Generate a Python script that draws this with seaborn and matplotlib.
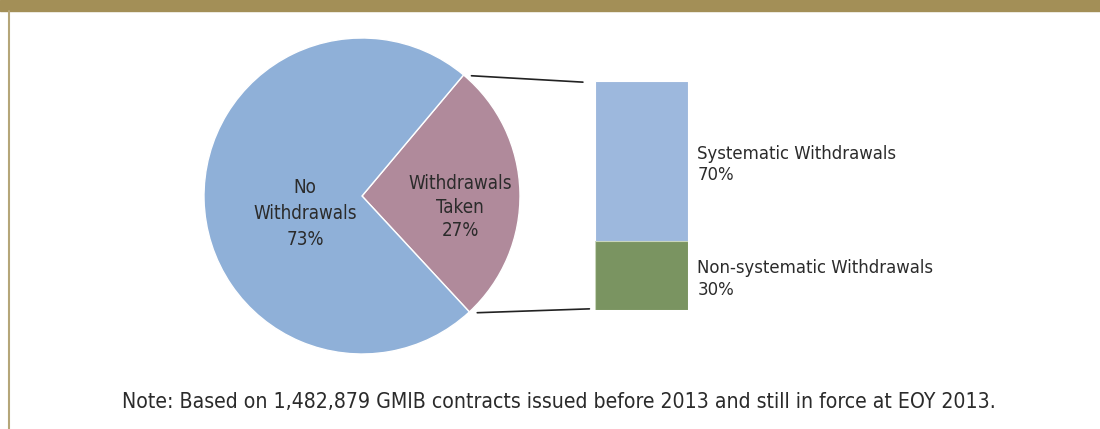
"""
Pie-of-bar chart: GMIB contracts with / without withdrawals
"""

import numpy as np
import pandas as pd
import matplotlib
matplotlib.use("Agg")
import matplotlib.pyplot as plt
from matplotlib.patches import Rectangle, ConnectionPatch
import seaborn as sns

# data
pie_labels = ["Withdrawals\nTaken", "No\nWithdrawals"]
pie_values = [27, 73]
bar_labels = ["Systematic Withdrawals", "Non-systematic Withdrawals"]
bar_values = [70, 30]
note = "Note: Based on 1,482,879 GMIB contracts issued before 2013 and still in force at EOY 2013."

# colours
pie_colors = ["#B08A9B", "#8FB0D8"]
bar_colors = ["#9DB8DD", "#7A9461"]
text_color = "#2b2b2b"
gold = "#A38F57"

sns.set_theme(style="white")
plt.rcParams["font.family"] = ["DejaVu Sans"]
plt.rcParams["font.stretch"] = "condensed"

fig = plt.figure(figsize=(11, 4.29), dpi=100)

# frame decoration: gold band on top, thin rule on the left
fig.patches.append(Rectangle((0, 1 - 11 / 429), 1, 11 / 429, transform=fig.transFigure,
                             color=gold, zorder=0))
fig.lines.append(plt.Line2D([8.5 / 1100, 8.5 / 1100], [0, 1 - 11 / 429],
                            transform=fig.transFigure, color="#B5A679", lw=1.5))

# ---- pie
ax_pie = fig.add_axes([(362 - 158) / 1100, (233 - 158) / 429, 316 / 1100, 316 / 429])
start = -47.2
wedges, _ = ax_pie.pie(pie_values, colors=pie_colors, startangle=start, counterclock=True,
                       radius=1, wedgeprops=dict(edgecolor="white", linewidth=1))
ax_pie.set_xlim(-1, 1)
ax_pie.set_ylim(-1, 1)
ax_pie.set_aspect("equal")
ax_pie.axis("off")

label_pos = [(0.62, -0.07), (-0.36, -0.11)]
spacing = [1.3, 1.45]
for lab, val, (x, y), ls in zip(pie_labels, pie_values, label_pos, spacing):
    ax_pie.text(x, y, f"{lab}\n{val}%", ha="center", va="center", fontsize=13.5,
                color=text_color, linespacing=ls)

# ---- stacked bar for the withdrawals split
ax_bar = fig.add_axes([595 / 1100, (429 - 310) / 429, 93 / 1100, 229 / 429])
df = pd.DataFrame({"grp": ["w"], "total": [sum(bar_values)], "bottom": [bar_values[1]]})
sns.barplot(data=df, x="grp", y="total", color=bar_colors[0], width=1, ax=ax_bar,
            edgecolor="white", linewidth=0.8, saturation=1)
sns.barplot(data=df, x="grp", y="bottom", color=bar_colors[1], width=1, ax=ax_bar,
            edgecolor="#C9D6BC", linewidth=0.8, saturation=1)
ax_bar.set_xlim(-0.5, 0.5)
ax_bar.set_ylim(0, sum(bar_values))
ax_bar.axis("off")

cum = np.cumsum([0] + bar_values[::-1])
mids = {bar_labels[1]: (cum[0] + cum[1]) / 2, bar_labels[0]: (cum[1] + cum[2]) / 2}
for lab, val in zip(bar_labels, bar_values):
    ax_bar.text(0.6, mids[lab] - 1.5, f"{lab}\n{val}%", ha="left", va="center",
                fontsize=13.2, color=text_color, linespacing=1.25, clip_on=False)

# ---- connector lines from the withdrawals wedge to the bar
w = wedges[0]
for ang, ybar, xend in [(w.theta2, sum(bar_values), -0.63), (w.theta1, 0, -0.56)]:
    xa, ya = np.cos(np.radians(ang)) + 0.05, np.sin(np.radians(ang)) - 0.005
    con = ConnectionPatch(xyA=(xa, ya), coordsA=ax_pie.transData,
                          xyB=(xend, ybar + (-0.5 if ybar else 0.5)), coordsB=ax_bar.transData,
                          color="#222222", lw=1.2)
    fig.add_artist(con)

fig.text(559 / 1100, 1 - 402 / 429, note, ha="center", va="center", fontsize=15.2,
         color=text_color)

fig.savefig("out.png", dpi=100)
